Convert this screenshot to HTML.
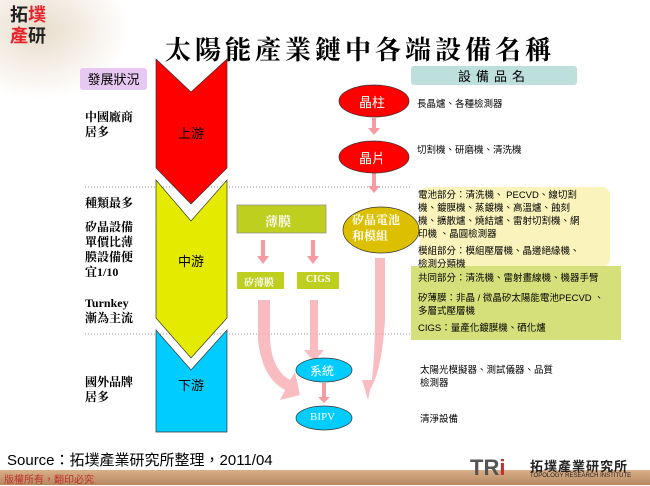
<!DOCTYPE html>
<html><head><meta charset="utf-8"><style>
body{margin:0;width:650px;height:485px;position:relative;overflow:hidden;background:#fff;font-family:"Liberation Serif","Noto Serif CJK SC","Noto Sans CJK TC",serif;}
.a{position:absolute;white-space:nowrap;}
.l{font-weight:bold;font-size:12px;line-height:15px;color:#000;left:85px;}
.r{font-size:9.5px;line-height:13px;color:#000;font-family:"Liberation Sans","Noto Sans CJK TC",sans-serif;}
</style></head><body>
<div class="a" style="left:0;top:0;width:130px;height:100px;background:radial-gradient(ellipse at 30% 30%,#e8dccb,#fff 70%);"></div>
<div class="a" style="left:10px;top:4px;font-size:18px;line-height:21px;font-weight:bold;font-family:'Noto Sans CJK TC',sans-serif;"><span style="color:#222">拓</span><span style="color:#e8202a">墣</span><br><span style="color:#e8202a">產</span><span style="color:#222">研</span></div>
<div class="a" style="left:165px;top:30px;font-size:26px;letter-spacing:4px;font-weight:bold;font-family:'Noto Serif CJK SC',serif;">太陽能產業鏈中各端設備名稱</div>
<div class="a" style="left:80px;top:68px;width:67px;height:22px;background:#e6c8f0;border-radius:3px;font-size:13px;line-height:22px;text-align:center;font-family:'Noto Sans CJK TC',sans-serif;">發展狀況</div>
<div class="a" style="left:411px;top:66px;width:166px;height:19px;background:#bde0dc;border-radius:3px;font-size:13px;line-height:19px;text-align:center;letter-spacing:5px;font-family:'Noto Sans CJK TC',sans-serif;">設備品名</div>
<div class="a" style="left:420px;top:187px;width:190px;height:80px;background:#faf3bb;border-radius:8px;"></div>
<div class="a" style="left:411px;top:266px;width:210px;height:74px;background:#d5e07a;"></div>
<svg class="a" style="left:0;top:0" width="650" height="485">
<line x1="85" y1="187" x2="410" y2="187" stroke="#999" stroke-dasharray="1,2"/>
<line x1="85" y1="334" x2="410" y2="334" stroke="#999" stroke-dasharray="1,2"/>
<g fill="#f6a0a8" opacity="0.7">
<path d="M258 300 L270 300 L270 340 Q272 370 290 380 L295 372 L300 395 L280 400 L285 390 Q262 378 258 340Z"/>
<path d="M375 258 L385 258 L385 320 Q382 370 370 390 L368 400 L362 380 L372 380 Q375 350 375 320Z"/>
<path d="M310 300 L318 300 L318 350 L324 350 L314 362 L304 350 L310 350Z"/>
</g>
<g fill="#f59aa0">
<path d="M372 118 h4 v10 h4 l-6 7 l-6 -7 h4z"/>
<path d="M372 172 h4 v14 h4 l-6 7 l-6 -7 h4z"/>
<path d="M261 240 h4 v16 h4 l-6 8 l-6 -8 h4z"/>
<path d="M311 240 h4 v16 h4 l-6 8 l-6 -8 h4z"/>
<path d="M322 383 h4 v14 h4 l-6 6 l-6 -6 h4z"/>
</g>
<polygon points="156,59 191,92 227,59 227,168 191,204 156,168" fill="#ff0000" stroke="#333" stroke-width="0.7"/>
<polygon points="156,180 191,221 227,180 227,318 191,358 156,318" fill="#e4ea00" stroke="#333" stroke-width="0.7"/>
<polygon points="156,330 191,370 227,330 227,432 156,432" fill="#00ccff" stroke="#333" stroke-width="0.7"/>
<ellipse cx="374" cy="101" rx="35" ry="16" fill="#ff0000" stroke="#333" stroke-width="0.7"/>
<ellipse cx="374" cy="157" rx="35" ry="16" fill="#ff0000" stroke="#333" stroke-width="0.7"/>
<ellipse cx="381" cy="230" rx="38" ry="23" fill="#dcc000" stroke="#333" stroke-width="0.7"/>
<ellipse cx="324" cy="370" rx="28" ry="12" fill="#00ccff" stroke="#333" stroke-width="0.7"/>
<ellipse cx="324" cy="418" rx="28" ry="12" fill="#00ccff" stroke="#333" stroke-width="0.7"/>
<rect x="237" y="205" width="89" height="28" fill="#bfcf20" stroke="#888" stroke-width="0.7"/>
<rect x="237" y="272" width="47" height="17" fill="#bfcf20"/>
<rect x="297" y="272" width="42" height="17" fill="#bfcf20"/>
</svg>
<div class="a" style="left:178px;top:123px;font-size:13px;font-family:'Noto Sans CJK TC',sans-serif;">上游</div>
<div class="a" style="left:178px;top:251px;font-size:13px;font-family:'Noto Sans CJK TC',sans-serif;">中游</div>
<div class="a" style="left:178px;top:375px;font-size:13px;font-family:'Noto Sans CJK TC',sans-serif;">下游</div>
<div class="a" style="left:359px;top:92px;color:#fff;font-size:13px;font-family:'Noto Sans CJK TC',sans-serif;">晶柱</div>
<div class="a" style="left:359px;top:148px;color:#fff;font-size:13px;font-family:'Noto Sans CJK TC',sans-serif;">晶片</div>
<div class="a" style="left:352px;top:212px;color:#fff;font-weight:bold;font-size:12px;line-height:16px;">矽晶電池<br>和模組</div>
<div class="a" style="left:265px;top:211px;color:#fff;font-weight:bold;font-size:13px;">薄膜</div>
<div class="a" style="left:244px;top:274px;color:#fff;font-weight:bold;font-size:10px;">矽薄膜</div>
<div class="a" style="left:306px;top:274px;color:#fff;font-weight:bold;font-size:10px;">CIGS</div>
<div class="a" style="left:310px;top:362px;color:#fff;font-size:12px;font-family:'Noto Sans CJK TC',sans-serif;">系統</div>
<div class="a" style="left:310px;top:411px;color:#fff;font-size:11px;">BIPV</div>
<div class="a l" style="top:110px">中國廠商<br>居多</div>
<div class="a l" style="top:196px">種類最多</div>
<div class="a l" style="top:220px">矽晶設備<br>單價比薄<br>膜設備便<br>宜1/10</div>
<div class="a l" style="top:296px">Turnkey<br>漸為主流</div>
<div class="a l" style="top:375px">國外品牌<br>居多</div>
<div class="a r" style="left:417px;top:98px">長晶爐、各種檢測器</div>
<div class="a r" style="left:417px;top:144px">切割機、研磨機、清洗機</div>
<div class="a r" style="left:418px;top:189px">電池部分：清洗機、 PECVD、線切割<br>機、鍍膜機、蒸鍍機、高溫爐、蝕刻<br>機、擴散爐、燒結爐、雷射切割機、網<br>印機 、晶圓檢測器</div>
<div class="a r" style="left:418px;top:245px">模組部分：模組壓層機、晶邊絕緣機、<br>檢測分類機</div>
<div class="a r" style="left:418px;top:272px">共同部分：清洗機、雷射畫線機、機器手臂</div>
<div class="a r" style="left:418px;top:292px">矽薄膜：非晶 / 微晶矽太陽能電池PECVD 、<br>多層式壓層機</div>
<div class="a r" style="left:418px;top:322px">CIGS：量產化鍍膜機、硒化爐</div>
<div class="a r" style="left:420px;top:364px">太陽光模擬器、測試儀器、品質<br>檢測器</div>
<div class="a r" style="left:420px;top:413px">清淨設備</div>
<div class="a" style="left:7px;top:449px;font-size:15px;font-family:'Liberation Sans','Noto Sans CJK TC',sans-serif;">Source：拓墣產業研究所整理，2011/04</div>
<div class="a" style="left:0;top:470px;width:650px;height:15px;background:linear-gradient(#d9b08a,#b5875e);"></div>
<div class="a" style="left:4px;top:471px;font-size:10px;color:#c0302a;font-family:'Noto Sans CJK TC',sans-serif;">版權所有，翻印必究</div>
<div class="a" style="left:470px;top:455px;font-size:22px;font-weight:bold;color:#555;font-family:'Liberation Sans',sans-serif;">TR<span style="color:#c03030">i</span></div>
<div class="a" style="left:530px;top:456px;font-size:13px;font-weight:bold;color:#222;font-family:'Noto Sans CJK TC',sans-serif;letter-spacing:1px;">拓墣產業研究所</div>
<div class="a" style="left:530px;top:473px;font-size:6px;color:#222;font-family:'Liberation Sans',sans-serif;">TOPOLOGY RESEARCH INSTITUTE</div>
</body></html>
